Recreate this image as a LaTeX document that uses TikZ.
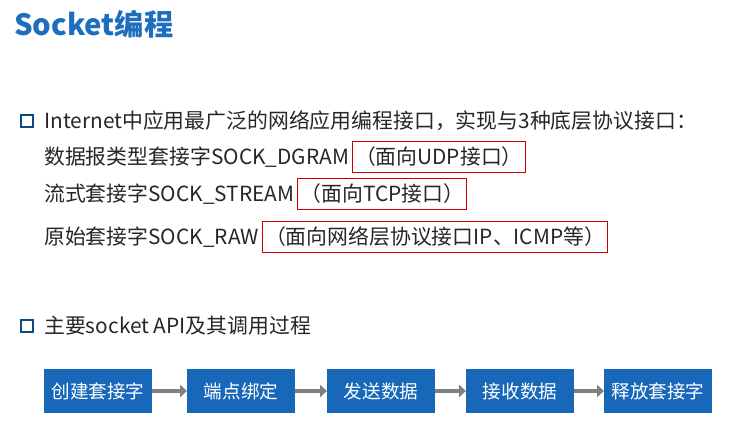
\documentclass[tikz,border=0pt]{standalone}
\usepackage{fontspec}
\newfontfamily\cjk{Noto Sans CJK SC}
\usetikzlibrary{positioning,arrows.meta}
\definecolor{titleblue}{RGB}{30,110,190}
\definecolor{boxblue}{RGB}{24,104,186}
\tikzset{
  line/.style={anchor=west, inner sep=0pt, font=\cjk\fontsize{15.7}{18}\selectfont, text=black!85},
  redframe/.style={line, draw=red!80!black, thick, inner xsep=2pt, inner ysep=4pt},
  stepbox/.style={fill=boxblue, text=white, minimum width=2.85cm, minimum height=1.15cm, font=\cjk\fontsize{14}{16}\selectfont},
  flow/.style={draw=gray, line width=2.5pt, -{Triangle[length=5pt,width=9pt]}},
  tick/.style={draw=boxblue!70!black, thick, minimum size=9pt, inner sep=0pt}
}
\begin{document}
\begin{tikzpicture}[x=0.02646cm, y=-0.02646cm]
\useasboundingbox (0,0) rectangle (748,430);
\node[anchor=west, inner sep=0pt, text=titleblue, font=\cjk\bfseries\fontsize{22}{26}\selectfont] (title) at (14,24) {Socket编程};

\node[tick] (b1) at (27,121) {};
\node[line] (l1) at (44,121) {Internet中应用最广泛的网络应用编程接口，实现与3种底层协议接口：};
\node[line] (l2) at (44,157) {数据报类型套接字SOCK\_DGRAM};
\node[redframe, right=2pt of l2] (r2) {（面向UDP接口）};
\node[line] (l3) at (44,194) {流式套接字SOCK\_STREAM};
\node[redframe, right=2pt of l3] (r3) {（面向TCP接口）};
\node[line] (l4) at (44,237) {原始套接字SOCK\_RAW};
\node[redframe, right=2pt of l4] (r4) {（面向网络层协议接口IP、ICMP等）};

\node[tick] (b2) at (27,326) {};
\node[line] (l5) at (44,326) {主要socket API及其调用过程};

\node[stepbox] (s1) at (98,391) {创建套接字};
\node[stepbox] (s2) at (241,391) {端点绑定};
\node[stepbox] (s3) at (381,391) {发送数据};
\node[stepbox] (s4) at (520,391) {接收数据};
\node[stepbox] (s5) at (658,391) {释放套接字};
\foreach \a/\b in {s1/s2,s2/s3,s3/s4,s4/s5}
  \draw[flow] (\a) -- (\b);
\end{tikzpicture}
\end{document}
